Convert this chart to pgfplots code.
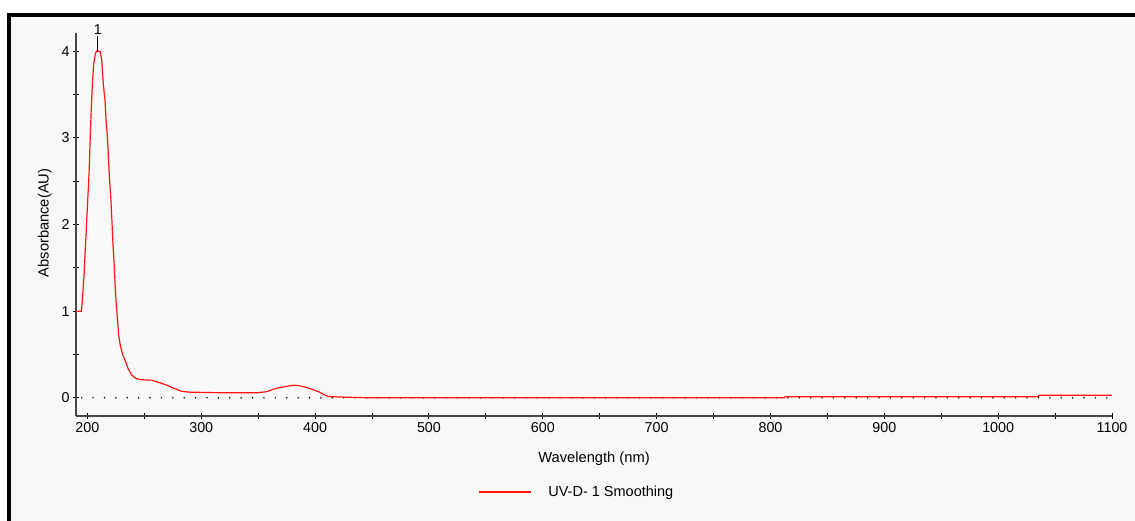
\documentclass[border=0pt]{standalone}
\usepackage{pgfplots}
\pgfplotsset{compat=1.18}
\usepackage{fontspec}
\setmainfont{Liberation Sans}
\definecolor{bgc}{RGB}{248,248,248}
\definecolor{axc}{RGB}{70,70,70}
\definecolor{curve}{RGB}{255,20,20}
\begin{document}
\begin{tikzpicture}
\useasboundingbox (0pt,0pt) rectangle (1135pt,520pt);
\fill[bgc] (9.2pt,-20pt) rectangle (1160pt,505pt);
\draw[black, line width=3.5pt] (9.2pt,-20pt) -- (9.2pt,505pt) -- (1160pt,505pt);
\begin{axis}[
  at={(76pt,104pt)}, anchor=south west,
  width=1036pt, height=383pt, scale only axis,
  xmin=190, xmax=1100, ymin=-0.21, ymax=4.21,
  clip=false,
  axis x line*=bottom, axis y line*=left,
  axis line style={-, draw=axc, line width=1.3pt},
  xtick={200,300,...,1100}, minor x tick num=1,
  ytick={0,1,2,3,4}, minor y tick num=1,
  tick align=center,
  major tick length=6pt, minor tick length=6pt,
  tick style={black, line width=0.9pt},
  /pgf/number format/assume math mode=true,
  /pgf/number format/1000 sep={},
  ticklabel style={font=\fontsize{14.3}{16}\selectfont},
  xlabel={Wavelength (nm)},
  ylabel={Absorbance(AU)},
  label style={font=\fontsize{14.7}{17}\selectfont},
  xlabel style={at={(axis description cs:0.5,-0.112)}, anchor=center},
  ylabel style={at={(axis description cs:-0.0300,0.504)}, anchor=center, rotate=0},
  legend style={draw=none, fill=none, inner sep=0pt,
    at={(axis description cs:0.388,-0.1984)}, anchor=west,
    font=\fontsize{14.5}{17}\selectfont,
    nodes={inner xsep=0pt}},
  legend image code/.code={\draw[#1] (0pt,0pt) -- (52pt,0pt); \path (69pt,0pt);},
]
\addplot[black, line width=1.7pt, line cap=round, dash pattern=on 0pt off 11.39pt, forget plot]
  coordinates {(195,0) (1100,0)};
\addplot[curve, line width=1.2pt] coordinates {
(190,1.0) (194.8,1.0) (196,1.2) (197,1.4) (198.5,1.8) (200,2.2) (201.5,2.6)
(202.5,3.0) (203.3,3.3) (204.3,3.6) (205.5,3.85) (207,3.97) (208,4.0) (211,4.0)
(212.6,3.9) (214,3.62) (215.5,3.43) (216.3,3.22) (217.5,3.03) (218.4,2.80)
(219.3,2.55) (220.5,2.32) (221.4,2.09) (222.3,1.82) (223.4,1.57) (224.3,1.32)
(225.4,1.07) (226.6,0.88) (227.5,0.72) (229,0.6) (231,0.5) (233,0.435)
(236,0.33) (239,0.26) (242,0.228) (246,0.21) (252,0.205) (256.5,0.204)
(262,0.18) (269.6,0.147) (276,0.11) (282.8,0.075) (290,0.065) (310,0.06)
(330,0.058) (348.6,0.058) (357.4,0.07) (366,0.11) (374,0.13) (380.8,0.145)
(386,0.14) (392.5,0.12) (398,0.095) (404,0.065) (408,0.035) (411.5,0.017)
(420,0.01) (435,0.004) (450,0.0) (812,0.0) (813,0.012) (1035,0.012)
(1036,0.03) (1100,0.03)
};
\addlegendentry{UV-D- 1 Smoothing}
\draw[black, line width=0.9pt] (axis cs:209.2,4.0) -- (axis cs:209.2,4.17)
  node[above, inner sep=1.5pt, font=\fontsize{14.3}{16}\selectfont] {1};
\end{axis}
\end{tikzpicture}
\end{document}
